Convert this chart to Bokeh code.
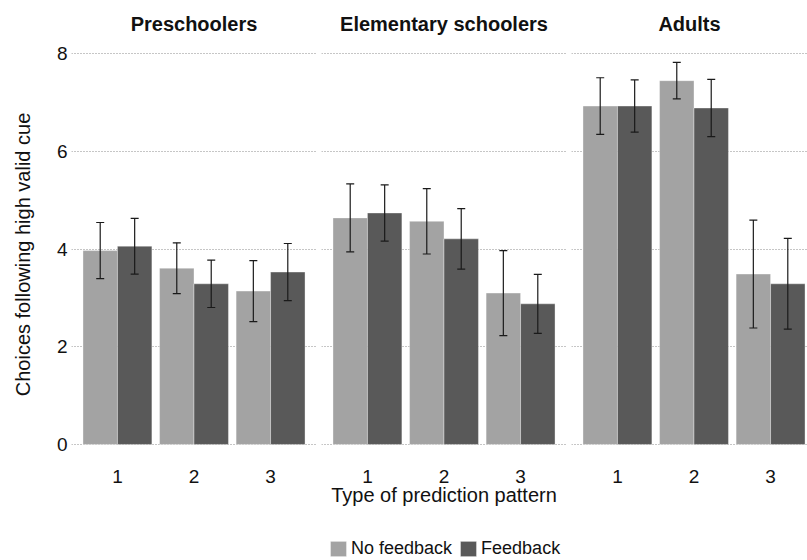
from bokeh.plotting import figure
from bokeh.layouts import row, column
from bokeh.models import (ColumnDataSource, Whisker, TeeHead, FixedTicker,
                          Range1d, Legend, LegendItem)
from bokeh.transform import dodge
from bokeh.embed import file_html
from bokeh.resources import INLINE

# ---------------- data ----------------
groups = ["Preschoolers", "Elementary schoolers", "Adults"]
patterns = [1, 2, 3]
y_ticks = [0, 2, 4, 6, 8]

pre_nofb = [3.97, 3.61, 3.14]
pre_nofb_err = [0.575, 0.52, 0.625]
pre_fb = [4.06, 3.29, 3.53]
pre_fb_err = [0.57, 0.485, 0.585]

elem_nofb = [4.64, 4.57, 3.10]
elem_nofb_err = [0.695, 0.67, 0.87]
elem_fb = [4.74, 4.21, 2.88]
elem_fb_err = [0.575, 0.62, 0.605]

adult_nofb = [6.93, 7.45, 3.49]
adult_nofb_err = [0.58, 0.375, 1.105]
adult_fb = [6.93, 6.89, 3.29]
adult_fb_err = [0.535, 0.585, 0.93]

series_labels = ["No feedback", "Feedback"]

# ---------------- style ----------------
LIGHT = "#a3a3a3"
DARK = "#595959"
FONT = "Liberation Sans"
TXT = "#111111"
UNIT_PX = 245 / 3.2

data = [
    (pre_nofb, pre_nofb_err, pre_fb, pre_fb_err),
    (elem_nofb, elem_nofb_err, elem_fb, elem_fb_err),
    (adult_nofb, adult_nofb_err, adult_fb, adult_fb_err),
]


def make_source(nf, nfe, fb, fbe):
    return ColumnDataSource(dict(
        pattern=patterns,
        nofb=nf, fb=fb,
        nofb_lo=[m - e for m, e in zip(nf, nfe)],
        nofb_hi=[m + e for m, e in zip(nf, nfe)],
        fb_lo=[m - e for m, e in zip(fb, fbe)],
        fb_hi=[m + e for m, e in zip(fb, fbe)],
    ))


BAR_KW = dict(bottom=0, width=0.45, line_color="white", line_width=0.6, line_alpha=0.6)

y_range = Range1d(-0.39, 8.17)
figs = []

for i, (g, (nf, nfe, fb, fbe)) in enumerate(zip(groups, data)):
    src = make_source(nf, nfe, fb, fbe)
    first = i == 0
    last = i == len(groups) - 1
    fw = 236 if last else 245
    x_end = 0.4 + fw / UNIT_PX
    p = figure(
        x_range=Range1d(0.4, x_end), y_range=y_range,
        frame_width=fw, frame_height=418,
        min_border_left=71 if first else 0,
        min_border_right=0 if last else 5,
        min_border_top=45, min_border_bottom=75,
        y_axis_location="left" if first else None,
        output_backend="svg", toolbar_location=None,
        title=g,
    )
    p.title.align = "center"
    p.title.vertical_align = "top"
    p.title.text_font = FONT
    p.title.text_font_size = "20px"
    p.title.text_font_style = "bold"
    p.title.text_color = TXT
    p.title.standoff = 18
    p.outline_line_color = None
    p.background_fill_color = "white"
    p.border_fill_color = "white"

    p.xgrid.visible = False
    p.ygrid.ticker = FixedTicker(ticks=y_ticks)
    p.ygrid.grid_line_color = "#8c8c8c"
    p.ygrid.grid_line_dash = "1 2"
    p.ygrid.grid_line_width = 1

    p.vbar(x=dodge("pattern", -0.225), top="nofb", fill_color=LIGHT, source=src, **BAR_KW)
    p.vbar(x=dodge("pattern", 0.225), top="fb", fill_color=DARK, source=src, **BAR_KW)
    for off, lo, hi in [(-0.225, "nofb_lo", "nofb_hi"), (0.225, "fb_lo", "fb_hi")]:
        w = Whisker(source=src, base=dodge("pattern", off), lower=lo, upper=hi,
                    line_color="#1a1a1a", line_width=1.2, level="annotation",
                    upper_head=TeeHead(size=8, line_color="#1a1a1a", line_width=1.2),
                    lower_head=TeeHead(size=8, line_color="#1a1a1a", line_width=1.2))
        p.add_layout(w)

    xa = p.xaxis[0]
    xa.ticker = FixedTicker(ticks=patterns)
    xa.axis_line_color = None
    xa.major_tick_line_color = None
    xa.minor_tick_line_color = None
    xa.major_tick_out = 0
    xa.major_tick_in = 0
    xa.minor_tick_out = 0
    xa.minor_tick_in = 0
    xa.major_label_standoff = 6
    xa.major_label_text_font = FONT
    xa.major_label_text_font_size = "19px"
    xa.major_label_text_color = TXT
    if i == 1:
        xa.axis_label = "Type of prediction pattern"
        xa.axis_label_standoff = -2
        xa.axis_label_text_font = FONT
        xa.axis_label_text_font_size = "20px"
        xa.axis_label_text_font_style = "normal"
        xa.axis_label_text_color = TXT
    if first:
        ya = p.yaxis[0]
        ya.ticker = FixedTicker(ticks=y_ticks)
        ya.axis_line_color = None
        ya.major_tick_line_color = None
        ya.minor_tick_line_color = None
        ya.major_tick_out = 0
        ya.major_tick_in = 0
        ya.minor_tick_out = 0
        ya.minor_tick_in = 0
        ya.major_label_standoff = 4
        ya.major_label_text_font = FONT
        ya.major_label_text_font_size = "19px"
        ya.major_label_text_color = TXT
        ya.axis_label = "Choices following high valid cue"
        ya.axis_label_standoff = 20
        ya.axis_label_text_font = FONT
        ya.axis_label_text_font_size = "20px"
        ya.axis_label_text_font_style = "normal"
        ya.axis_label_text_color = TXT
    figs.append(p)

# ---- legend strip (swatches taken from the same bar renderers, plotted off-view) ----
leg_src = make_source(*data[1])
lf = figure(width=807, height=22, min_border=0,
            x_range=Range1d(0.4, 3.6), y_range=Range1d(100, 101),
            x_axis_location=None, y_axis_location=None,
            output_backend="svg", toolbar_location=None)
lf.outline_line_color = None
lf.xgrid.visible = False
lf.ygrid.visible = False
lr1 = lf.vbar(x=dodge("pattern", -0.225), top="nofb", fill_color=LIGHT, source=leg_src, **BAR_KW)
lr2 = lf.vbar(x=dodge("pattern", 0.225), top="fb", fill_color=DARK, source=leg_src, **BAR_KW)
legend = Legend(
    items=[LegendItem(label=series_labels[0], renderers=[lr1]),
           LegendItem(label=series_labels[1], renderers=[lr2])],
    orientation="horizontal", location=(328, 1),
    glyph_width=20, glyph_height=19, label_height=19, label_standoff=3, spacing=6,
    padding=0, margin=0, border_line_color=None, background_fill_alpha=0,
    label_text_font=FONT, label_text_font_size="18px", label_text_color=TXT,
)
lf.add_layout(legend, "center")

layout = column(row(*figs), lf)
open("out.html", "w").write(file_html(layout, INLINE))
